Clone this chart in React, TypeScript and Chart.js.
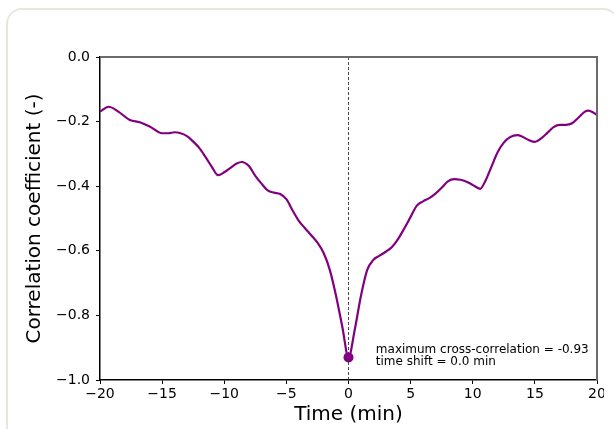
import React, { useEffect, useRef } from "react";
import { Chart, registerables } from "chart.js";

Chart.register(...registerables);

// Time lag (min)
const times = [
  -20, -19.3, -18.5, -17.6, -16.8, -16, -15, -14.5, -14, -13, -12.5, -12, -11.5, -11, -10.5, -10,
  -9.5, -9, -8.6, -8, -7.5, -7, -6.5, -6, -5.5, -5, -4.5, -4, -3.5, -3, -2.5, -2, -1.5, -1, -0.5,
  0, 0.5, 1, 1.5, 2, 2.5, 3, 3.5, 4, 4.5, 5, 5.5, 6, 6.5, 7, 7.5, 8, 8.5, 9, 9.5, 10, 10.6, 11,
  11.5, 12, 12.5, 13, 13.6, 14, 14.5, 15, 15.5, 16, 16.5, 17, 17.5, 18, 18.5, 19, 19.3, 19.7, 20,
];
// Correlation coefficient (-)
const corr = [
  -0.169, -0.154, -0.17, -0.195, -0.202, -0.215, -0.236, -0.236, -0.233, -0.245, -0.262, -0.282,
  -0.31, -0.34, -0.366, -0.357, -0.343, -0.33, -0.325, -0.338, -0.368, -0.392, -0.413, -0.42,
  -0.424, -0.44, -0.475, -0.507, -0.53, -0.552, -0.575, -0.607, -0.66, -0.74, -0.835, -0.93,
  -0.845, -0.74, -0.66, -0.628, -0.615, -0.603, -0.588, -0.563, -0.53, -0.495, -0.46, -0.447,
  -0.437, -0.423, -0.405, -0.385, -0.378, -0.38, -0.386, -0.396, -0.408, -0.385, -0.34, -0.295,
  -0.265, -0.248, -0.242, -0.247, -0.257, -0.263, -0.252, -0.235, -0.217, -0.21, -0.21, -0.205,
  -0.188, -0.17, -0.166, -0.172, -0.18,
];

const peakTime = [0];
const peakCorr = [-0.93];
const zeroLineX = [0, 0];
const zeroLineY = [0, -1];

const xTicks = [-20, -15, -10, -5, 0, 5, 10, 15, 20];
const yTicks = [-1.0, -0.8, -0.6, -0.4, -0.2, 0.0];

const annotationLines = ["maximum cross-correlation = -0.93", "time shift = 0.0 min"];

const PURPLE = "#800080";
const FONT = "'DejaVu Sans', sans-serif";
const minus = (s: string) => s.replace("-", "\u2212");

const overlayPlugin = {
  id: "overlay",
  afterDatasetsDraw(chart: any) {
    const { ctx, chartArea: a, scales } = chart;
    ctx.save();
    ctx.strokeStyle = "#6b6b6b";
    ctx.lineWidth = 2;
    ctx.beginPath();
    ctx.moveTo(a.left, a.top);
    ctx.lineTo(a.right, a.top);
    ctx.lineTo(a.right, a.bottom);
    ctx.stroke();

    ctx.fillStyle = "#000";
    ctx.font = `12px ${FONT}`;
    ctx.textAlign = "left";
    ctx.textBaseline = "alphabetic";
    const x = scales.x.getPixelForValue(2.2);
    const y = scales.y.getPixelForValue(-0.916);
    annotationLines.forEach((line, i) => ctx.fillText(line, x, y + i * 12.5));
    ctx.restore();
  },
};

export default function App() {
  const ref = useRef<HTMLCanvasElement>(null);

  useEffect(() => {
    if (!ref.current) return;
    const chart = new Chart(ref.current, {
      type: "line",
      data: {
        datasets: [
          {
            label: "peak",
            data: peakTime.map((t, i) => ({ x: t, y: peakCorr[i] })),
            showLine: false,
            pointRadius: 5,
            pointBackgroundColor: PURPLE,
            pointBorderColor: PURPLE,
            pointBorderWidth: 0,
            order: 0,
          },
          {
            label: "corr",
            data: times.map((t, i) => ({ x: t, y: corr[i] })),
            borderColor: PURPLE,
            borderWidth: 2.2,
            pointRadius: 0,
            cubicInterpolationMode: "monotone",
            fill: false,
            order: 1,
          },
          {
            label: "zero",
            data: zeroLineX.map((t, i) => ({ x: t, y: zeroLineY[i] })),
            borderColor: "#333",
            borderWidth: 0.9,
            borderDash: [3, 2],
            pointRadius: 0,
            fill: false,
            order: 2,
          },
        ],
      },
      options: {
        responsive: false,
        animation: false,
        devicePixelRatio: 1,
        layout: { padding: { left: 0, top: 57, right: 7, bottom: 0 } },
        plugins: { legend: { display: false }, tooltip: { enabled: false } },
        scales: {
          x: {
            type: "linear",
            min: -20,
            max: 20,
            afterBuildTicks: (s: any) => {
              s.ticks = xTicks.map((v) => ({ value: v }));
            },
            afterFit: (s: any) => {
              s.height = 49;
              s.paddingLeft = 0;
              s.paddingRight = 0;
            },
            grid: { display: true, drawOnChartArea: false, drawTicks: true, tickLength: 4, tickColor: "#000", tickWidth: 1 },
            border: { display: true, color: "#000", width: 1.5 },
            ticks: {
              padding: 2,
              color: "#000",
              font: { family: FONT, size: 14 },
              maxRotation: 0,
              autoSkip: false,
              callback: (v: any) => minus(String(v)),
            },
            title: {
              display: true,
              text: "Time (min)",
              color: "#000",
              font: { family: FONT, size: 20 },
              padding: { top: 0, bottom: 2 },
            },
          },
          y: {
            type: "linear",
            min: -1,
            max: 0,
            afterBuildTicks: (s: any) => {
              s.ticks = yTicks.map((v) => ({ value: v }));
            },
            afterFit: (s: any) => {
              s.width = 100;
              s.paddingTop = 0;
              s.paddingBottom = 0;
            },
            grid: { display: true, drawOnChartArea: false, drawTicks: true, tickLength: 4, tickColor: "#000", tickWidth: 1 },
            border: { display: true, color: "#000", width: 1.5 },
            ticks: {
              padding: 6,
              color: "#000",
              font: { family: FONT, size: 14 },
              autoSkip: false,
              callback: (v: any) => minus(Number(v).toFixed(1)),
            },
            title: {
              display: true,
              text: "Correlation coefficient (-)",
              color: "#000",
              font: { family: FONT, size: 20 },
              padding: { top: 23, bottom: 0 },
            },
          },
        },
      },
      plugins: [overlayPlugin],
    } as any);
    return () => chart.destroy();
  }, []);

  return (
    <div
      style={{
        position: "fixed",
        left: 0,
        top: 0,
        width: 614,
        height: 429,
        overflow: "hidden",
        background: "#fff",
      }}
    >
      <div
        style={{
          position: "absolute",
          left: 6,
          top: 8,
          width: 613,
          height: 470,
          border: "2px solid #e8e6df",
          borderRadius: 16,
          boxSizing: "border-box",
        }}
      />
      <div style={{ position: "absolute", left: 0, top: 0, width: 604, height: 429, overflow: "hidden" }}>
        <canvas ref={ref} width={604} height={429} style={{ display: "block" }} />
      </div>
    </div>
  );
}
